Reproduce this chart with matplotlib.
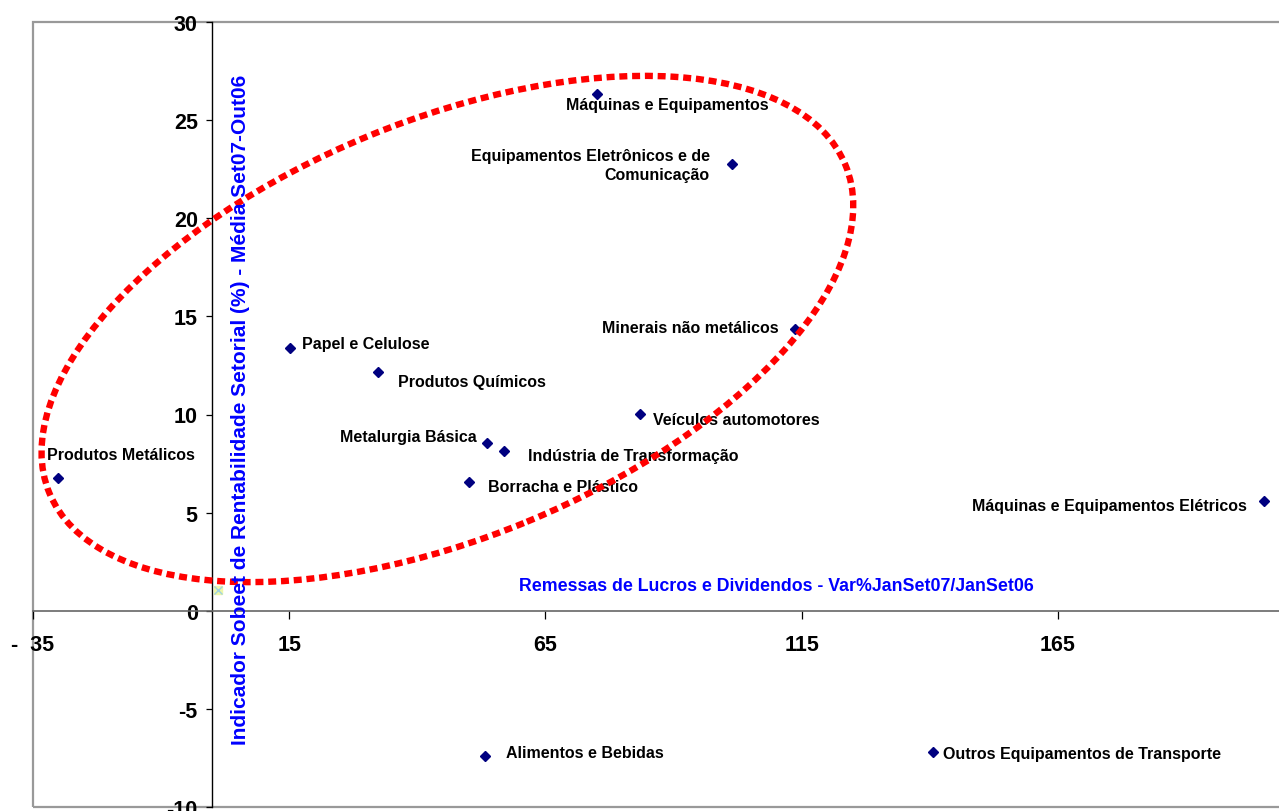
import matplotlib
matplotlib.use("Agg")
import matplotlib.pyplot as plt
from matplotlib.patches import Ellipse, Rectangle
from matplotlib.transforms import IdentityTransform

plt.rcParams['font.family'] = ['Liberation Sans', 'DejaVu Sans']
plt.rcParams['axes.unicode_minus'] = False

# sectors: profit remittances (x) vs Sobeet profitability indicator (y)
setores = [
    "Máquinas e Equipamentos",
    "Equipamentos Eletrônicos e de\nComunicação",
    "Minerais não metálicos",
    "Papel e Celulose",
    "Produtos Químicos",
    "Veículos automotores",
    "Metalurgia Básica",
    "Indústria de Transformação",
    "Produtos Metálicos",
    "Borracha e Plástico",
    "Máquinas e Equipamentos Elétricos",
    "Alimentos e Bebidas",
    "Outros Equipamentos de Transporte",
]
remessas = [75.1, 101.5, 113.8, 15.1, 32.3, 83.4, 53.6, 56.9, -30.2, 50.1, 205.2, 53.2, 140.6]
rentabilidade = [26.33, 22.75, 14.36, 13.37, 12.15, 10.03, 8.53, 8.12, 6.75, 6.58, 5.59, -7.40, -7.20]

# second (reference) series, a single point near the origin
ref_x = [1.1]
ref_y = [1.06]

xticks = [-35, 15, 65, 115, 165]
xtick_labels = ["-  35", "15", "65", "115", "165"]
yticks = [-10, -5, 0, 5, 10, 15, 20, 25, 30]

# label placement: (dx, dy) in pixels, horizontal alignment
label_pos = [
    (-31.5, -10.7, "left"),
    (-22.7, -0.5, "right"),
    (-16.7, 1.7, "right"),
    (12.0, 5.0, "left"),
    (20.6, -9.4, "left"),
    (13.3, -6.0, "left"),
    (-10.6, 7.0, "right"),
    (24.3, -3.7, "left"),
    (-10.4, 23.3, "left"),
    (19.0, -5.0, "left"),
    (-17.0, -4.0, "right"),
    (21.0, 3.0, "left"),
    (10.0, -1.0, "left"),
]

W, H = 1279, 812
fig = plt.figure(figsize=(W / 100, H / 100), dpi=100)
ax = fig.add_axes([33 / W, 4 / H, (1314 - 33) / W, 785 / H])
ax.set_xlim(-35, 215)
ax.set_ylim(-10, 30)

# axes cross at the origin, grey frame around the plot area
ax.spines['left'].set_position(('data', 0))
ax.spines['bottom'].set_position(('data', 0))
ax.spines['left'].set_color('black')
ax.spines['left'].set_linewidth(1.0)
ax.spines['bottom'].set_color('#666666')
ax.spines['bottom'].set_linewidth(1.2)
ax.spines['top'].set_visible(False)
ax.spines['right'].set_visible(False)
ax.add_patch(Rectangle((0, 0), 1, 1, transform=ax.transAxes, fill=False,
                       edgecolor='#999999', lw=1.6, clip_on=False, zorder=0))

ax.set_xticks(xticks)
ax.set_xticklabels(xtick_labels)
ax.set_yticks(yticks)
ax.tick_params(axis='x', direction='out', length=6, width=0.9, pad=11,
               labelsize=15.5, colors='black')
ax.tick_params(axis='y', direction='out', length=4.5, width=0.9, pad=6,
               labelsize=15.5, colors='black')
for lab in ax.get_xticklabels() + ax.get_yticklabels():
    lab.set_fontweight('bold')

ax.plot(remessas, rentabilidade, linestyle='none', marker='D', markersize=5.6,
        color='#000080', zorder=3)
ax.plot(ref_x, ref_y, linestyle='none', marker='s', markersize=6,
        color='#EEF7A8', zorder=3)
ax.plot(ref_x, ref_y, linestyle='none', marker='x', markersize=6,
        markeredgewidth=1.0, color='#9FD3E0', zorder=3)

for nome, x, y, (dx, dy, ha) in zip(setores, remessas, rentabilidade, label_pos):
    ax.annotate(nome, (x, y), xytext=(dx, dy), textcoords='offset pixels',
                ha=ha, va='center', multialignment=ha, fontsize=11.5,
                fontweight='bold', color='black', linespacing=1.3, zorder=4)

# dotted red ellipse highlighting the main cluster
ax.add_artist(Ellipse((447.4, H - 330), width=861, height=417, angle=22.4,
                      transform=IdentityTransform(), fill=False,
                      edgecolor='#FF0000', lw=4.6, linestyle=(0, (1.25, 0.75)),
                      clip_on=False, zorder=5))

fig.text(776 / W, 1 - 587 / H,
         "Remessas de Lucros e Dividendos - Var%JanSet07/JanSet06",
         ha='center', va='center', fontsize=12.8, fontweight='bold',
         color='#0000FF', zorder=6)
fig.text(241 / W, 1 - 410 / H,
         "Indicador Sobeet de Rentabilidade Setorial (%) - Média Set07-Out06",
         ha='center', va='center', rotation=90, fontsize=15, fontweight='bold',
         color='#0000FF', zorder=6)

fig.savefig("out.png", dpi=100)
